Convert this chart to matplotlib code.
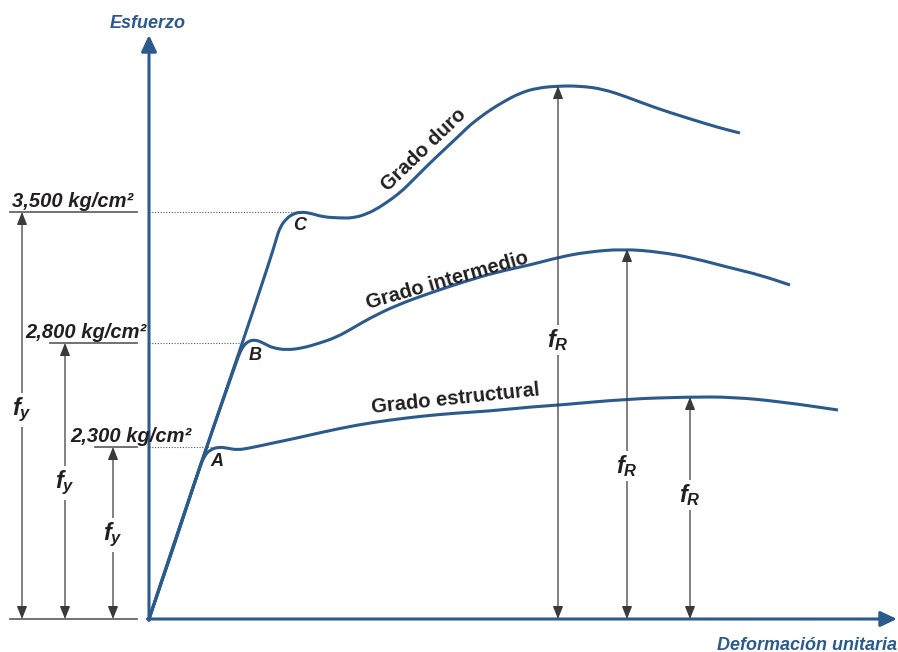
import matplotlib
matplotlib.use('Agg')
import matplotlib.pyplot as plt
from matplotlib.path import Path
from matplotlib.patches import PathPatch

plt.rcParams['font.family'] = ['Liberation Sans', 'DejaVu Sans']
plt.rcParams['mathtext.fontset'] = 'custom'
plt.rcParams['mathtext.it'] = 'Liberation Sans:italic:bold'
plt.rcParams['mathtext.rm'] = 'Liberation Sans:bold'

AZUL = '#2b5a8c'
GRIS = '#3a3a3a'
TEXTO = '#231f20'

# curvas esfuerzo-deformacion (unidades del esquema, origen en la esquina de los ejes)
def_estructural = [0, 26, 51, 56, 61, 69, 78, 88, 101, 124, 148, 174, 208, 241, 274,
                   308, 341, 381, 411, 478, 538, 584, 634, 689]
esf_estructural = [0, 76, 153, 164, 169, 172, 171, 169, 171, 176, 181, 187, 194, 199, 203,
                   206, 208, 212, 214, 220, 222, 222, 217, 209]

def_intermedio = [0, 51, 87, 91, 95, 100, 105, 110, 116, 124, 138, 154, 171, 188, 204,
                  221, 248, 281, 314, 348, 381, 411, 438, 474, 511, 544, 578, 611, 641]
esf_intermedio = [0, 153, 256, 267, 274, 278, 279, 278, 275, 271, 269, 271, 276, 282, 291,
                  301, 314, 326, 337, 347, 354, 362, 367, 370, 367, 361, 352, 344, 334]

def_duro = [0, 51, 91, 121, 127, 131, 138, 144, 151, 161, 174, 191, 204, 218, 231, 244,
            254, 264, 281, 298, 314, 321, 338, 354, 371, 388, 409, 431, 454, 478, 504,
            538, 571, 591]
esf_duro = [0, 153, 269, 359, 379, 392, 401, 405, 407, 406, 402, 401, 401, 405, 412, 421,
            429, 439, 456, 472, 487, 494, 507, 517, 526, 531, 533, 533, 530, 522, 512,
            501, 491, 486]

# esfuerzo de fluencia de cada grado
fy_nivel = [407, 276, 172]
fy_texto = ['3,500 kg/cm²', '2,800 kg/cm²', '2,300 kg/cm²']

# esfuerzo ultimo (pico de cada curva)
fr_def = [409, 478, 541]
fr_nivel = [533, 370, 222]

fig = plt.figure(figsize=(8.98, 6.52), dpi=100)
ax = fig.add_axes([0, 0, 1, 1])
ax.set_xlim(-149, 749)
ax.set_ylim(-33, 619)
ax.axis('off')


def curva_suave(xs, ys):
    # los puntos leidos hacen de control de beziers cuadraticas entre puntos medios
    pts = list(zip(xs, ys))
    verts = [pts[0]]
    codes = [Path.MOVETO]
    medio = lambda a, b: ((a[0] + b[0]) / 2, (a[1] + b[1]) / 2)
    verts.append(medio(pts[0], pts[1]))
    codes.append(Path.LINETO)
    for i in range(1, len(pts) - 1):
        verts += [pts[i], medio(pts[i], pts[i + 1])]
        codes += [Path.CURVE3, Path.CURVE3]
    verts.append(pts[-1])
    codes.append(Path.LINETO)
    ax.add_patch(PathPatch(Path(verts, codes), fill=False, edgecolor=AZUL, lw=2.2,
                           joinstyle='round', capstyle='butt'))


def flecha_doble(x, y0, y1):
    ax.annotate('', xy=(x, y1), xytext=(x, y0),
                arrowprops=dict(arrowstyle='<|-|>,head_length=0.55,head_width=0.22',
                                color=GRIS, lw=0.9, mutation_scale=14,
                                shrinkA=0, shrinkB=0))


# ejes con flecha
flecha_eje = dict(arrowstyle='-|>,head_length=0.7,head_width=0.33', color=AZUL,
                  lw=2.2, mutation_scale=14, shrinkA=0, shrinkB=0)
ax.annotate('', xy=(0, 584), xytext=(0, -1.5), arrowprops=flecha_eje)
ax.annotate('', xy=(748, 0), xytext=(-1.5, 0), arrowprops=flecha_eje)
ax.text(-1, 596, 'Esfuerzo', ha='center', va='center', fontsize=13,
        fontweight='bold', fontstyle='italic', color=AZUL)
ax.text(748, -26, 'Deformación unitaria', ha='right', va='center', fontsize=13,
        fontweight='bold', fontstyle='italic', color=AZUL)

# curvas
curva_suave(def_estructural, esf_estructural)
curva_suave(def_intermedio, esf_intermedio)
curva_suave(def_duro, esf_duro)

# lineas punteadas de fluencia
pico_x = [151, 100, 69]
for y, xp in zip(fy_nivel, pico_x):
    ax.plot([0, xp], [y, y], color='#555555', lw=0.8, ls=(0, (1, 1.5)))

# marcas a la izquierda del eje
inicio_marca = [-139, -99, -54]
ax.plot([-139, -12], [0, 0], color='#666666', lw=1.3)
for y, x0 in zip(fy_nivel, inicio_marca):
    ax.plot([x0, -12], [y, y], color='#666666', lw=1.3)

texto_x = [-137, -124, -79]
for y, x0, t in zip(fy_nivel, texto_x, fy_texto):
    ax.text(x0, y + 5, t, ha='left', va='baseline', fontsize=14.5,
            fontweight='bold', fontstyle='italic', color=TEXTO)

flecha_fy_x = [-127, -84, -36]
etiqueta_fy_y = [209, 136, 84]
for x, y, ye in zip(flecha_fy_x, fy_nivel, etiqueta_fy_y):
    flecha_doble(x, 0, y)
    ax.text(x, ye, '$f_y$', ha='center', va='center', fontsize=17, color=TEXTO,
            bbox=dict(boxstyle='square,pad=0.1', fc='white', ec='none'))

etiqueta_fr_y = [279, 153, 124]
for x, y, ye in zip(fr_def, fr_nivel, etiqueta_fr_y):
    flecha_doble(x, 0, y)
    ax.text(x, ye, '$f_R$', ha='center', va='center', fontsize=17, color=TEXTO,
            bbox=dict(boxstyle='square,pad=0.1', fc='white', ec='none'))

# puntos de fluencia
for t, x, y in [('A', 68, 157), ('B', 106, 264), ('C', 151, 393)]:
    ax.text(x, y, t, ha='center', va='center', fontsize=13,
            fontweight='bold', fontstyle='italic', color=TEXTO)

# nombres de los grados
for t, x, y, ang in [('Grado duro', 275, 469, 44), ('Grado intermedio', 298, 338, 16),
                     ('Grado estructural', 306, 220, 6)]:
    ax.text(x, y, t, ha='center', va='center', rotation=ang, rotation_mode='anchor',
            fontsize=14.5, fontweight='bold', color=TEXTO)

fig.savefig('out.png', dpi=100)
